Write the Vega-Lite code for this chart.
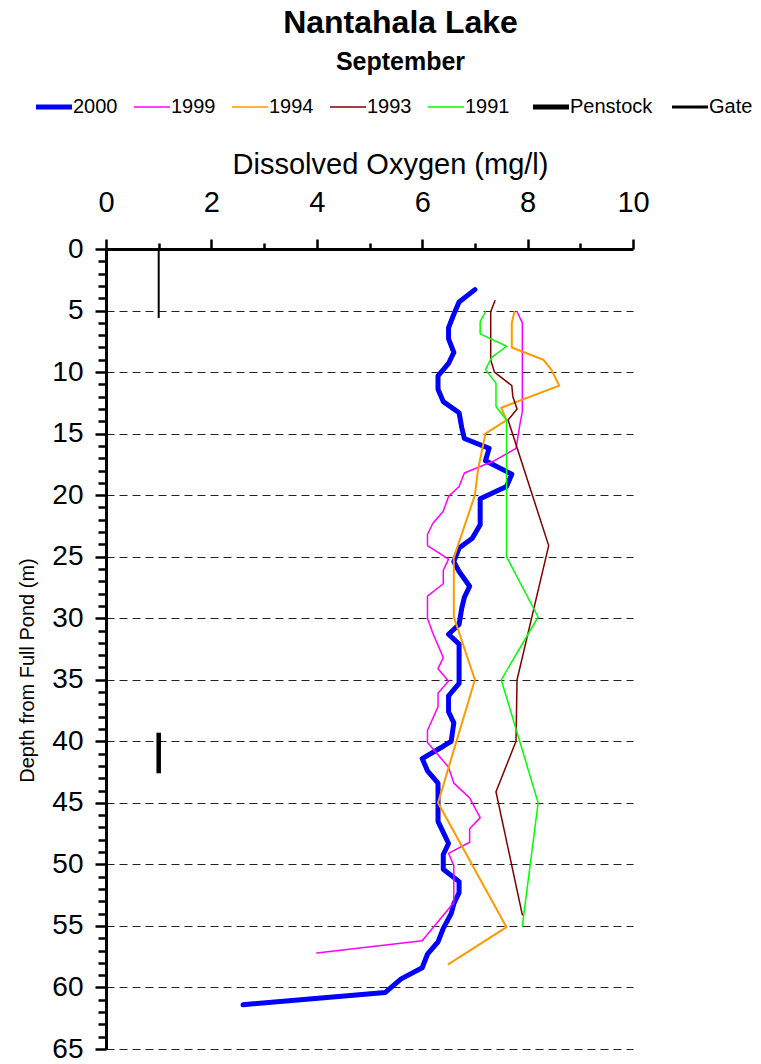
{
  "$schema": "https://vega.github.io/schema/vega-lite/v6.json",
  "width": 527,
  "height": 800,
  "autosize": {"type": "none"},
  "padding": {"left": 106, "top": 249, "right": 128, "bottom": 15},
  "background": "white",
  "config": {"view": {"stroke": null}, "font": "Liberation Sans"},
  "title": {
    "text": "Nantahala Lake",
    "subtitle": "September",
    "fontSize": 32,
    "fontWeight": "bold",
    "color": "black",
    "subtitleFontSize": 25,
    "subtitleFontWeight": "bold",
    "subtitleColor": "black",
    "subtitlePadding": 10,
    "anchor": "middle",
    "dx": 31,
    "offset": 21
  },
  "encoding": {
    "x": {
      "field": "v",
      "type": "quantitative",
      "scale": {"domain": [0, 10], "nice": false, "zero": false},
      "axis": {
        "orient": "top",
        "values": [0, 1, 2, 3, 4, 5, 6, 7, 8, 9, 10],
        "labelExpr": "datum.value % 2 == 0 ? datum.label : ''",
        "tickSize": {"condition": {"test": "datum.value % 2 == 0", "value": 10}, "value": 6},
        "tickWidth": 2.5,
        "tickColor": "black",
        "domainColor": "black",
        "domainWidth": 3,
        "labelFontSize": 29,
        "labelColor": "black",
        "labelPadding": 22,
        "labelFlush": false,
        "labelOverlap": false,
        "grid": false,
        "title": "Dissolved Oxygen (mg/l)",
        "titleFontSize": 29,
        "titleFontWeight": "normal",
        "titleColor": "black",
        "titleX": 284,
        "titleY": -85,
        "titleBaseline": "middle",
        "titleAlign": "center"
      }
    },
    "y": {
      "field": "d",
      "type": "quantitative",
      "scale": {"domain": [0, 65], "reverse": true, "nice": false, "zero": false},
      "axis": {
        "orient": "left",
        "values": [0,1,2,3,4,5,6,7,8,9,10,11,12,13,14,15,16,17,18,19,20,21,22,23,24,25,26,27,28,29,30,31,32,33,34,35,36,37,38,39,40,41,42,43,44,45,46,47,48,49,50,51,52,53,54,55,56,57,58,59,60,61,62,63,64,65],
        "labelExpr": "datum.value % 5 == 0 ? datum.label : ''",
        "tickSize": {"condition": {"test": "datum.value % 5 == 0", "value": 11}, "value": 8},
        "tickWidth": 2.5,
        "tickColor": "black",
        "domainColor": "black",
        "domainWidth": 3,
        "labelFontSize": 28,
        "labelColor": "black",
        "labelPadding": 12,
        "labelFlush": false,
        "labelOverlap": false,
        "grid": true,
        "gridColor": "#222222",
        "gridWidth": 1,
        "gridDash": [8, 5],
        "gridOpacity": {"condition": {"test": "datum.value % 5 == 0 && datum.value > 0", "value": 1}, "value": 0},
        "title": "Depth from Full Pond (m)",
        "titleFontSize": 20,
        "titleFontWeight": "normal",
        "titleColor": "black",
        "titleX": -79,
        "titleY": 421,
        "titleBaseline": "middle",
        "titleAlign": "center",
        "titleAngle": -90
      }
    },
    "color": {
      "field": "s",
      "type": "nominal",
      "scale": {
        "domain": ["2000", "1999", "1994", "1993", "1991", "Penstock", "Gate"],
        "range": ["#0000FF", "#FF00FF", "#FF9900", "#800000", "#00FF00", "#000000", "#000000"]
      },
      "legend": {
        "orient": "none",
        "legendX": -62,
        "legendY": -152,
        "direction": "horizontal",
        "title": null,
        "symbolType": "stroke",
        "symbolSize": 1296,
        "symbolStrokeWidth": 1.5,
        "labelFontSize": 20,
        "labelColor": "black",
        "labelOffset": 9,
        "columnPadding": 13,
        "encode": {
          "symbols": {
            "update": {
              "strokeWidth": {"signal": "datum.value === '2000' || datum.value === 'Penstock' ? 5 : (datum.value === 'Gate' ? 3 : 1.5)"}
            }
          }
        }
      }
    }
  },
  "layer": [
    {
      "data": {
        "values": [
          {"s": "2000", "v": 7.0, "d": 3.3},
          {"s": "2000", "v": 6.7, "d": 4.3},
          {"s": "2000", "v": 6.6, "d": 5.3},
          {"s": "2000", "v": 6.5, "d": 6.4},
          {"s": "2000", "v": 6.5, "d": 7.3},
          {"s": "2000", "v": 6.6, "d": 8.4},
          {"s": "2000", "v": 6.5, "d": 9.3},
          {"s": "2000", "v": 6.3, "d": 10.3},
          {"s": "2000", "v": 6.3, "d": 11.4},
          {"s": "2000", "v": 6.4, "d": 12.4},
          {"s": "2000", "v": 6.7, "d": 13.3},
          {"s": "2000", "v": 6.75, "d": 14.5},
          {"s": "2000", "v": 6.8, "d": 15.4},
          {"s": "2000", "v": 7.27, "d": 16.2},
          {"s": "2000", "v": 7.2, "d": 17.2},
          {"s": "2000", "v": 7.7, "d": 18.3},
          {"s": "2000", "v": 7.6, "d": 19.3},
          {"s": "2000", "v": 7.1, "d": 20.3},
          {"s": "2000", "v": 7.1, "d": 21.3},
          {"s": "2000", "v": 7.1, "d": 22.4},
          {"s": "2000", "v": 6.95, "d": 23.5},
          {"s": "2000", "v": 6.7, "d": 24.3},
          {"s": "2000", "v": 6.6, "d": 25.4},
          {"s": "2000", "v": 6.7, "d": 26.2},
          {"s": "2000", "v": 6.9, "d": 27.4},
          {"s": "2000", "v": 6.8, "d": 28.3},
          {"s": "2000", "v": 6.75, "d": 29.2},
          {"s": "2000", "v": 6.7, "d": 30.5},
          {"s": "2000", "v": 6.5, "d": 31.3},
          {"s": "2000", "v": 6.7, "d": 32.1},
          {"s": "2000", "v": 6.7, "d": 33.3},
          {"s": "2000", "v": 6.7, "d": 34.3},
          {"s": "2000", "v": 6.7, "d": 35.3},
          {"s": "2000", "v": 6.5, "d": 36.3},
          {"s": "2000", "v": 6.5, "d": 37.6},
          {"s": "2000", "v": 6.6, "d": 38.5},
          {"s": "2000", "v": 6.55, "d": 40.0},
          {"s": "2000", "v": 6.4, "d": 40.4},
          {"s": "2000", "v": 6.0, "d": 41.4},
          {"s": "2000", "v": 6.1, "d": 42.4},
          {"s": "2000", "v": 6.3, "d": 43.4},
          {"s": "2000", "v": 6.3, "d": 44.4},
          {"s": "2000", "v": 6.3, "d": 45.4},
          {"s": "2000", "v": 6.3, "d": 46.5},
          {"s": "2000", "v": 6.4, "d": 47.4},
          {"s": "2000", "v": 6.5, "d": 48.3},
          {"s": "2000", "v": 6.4, "d": 49.2},
          {"s": "2000", "v": 6.4, "d": 50.4},
          {"s": "2000", "v": 6.7, "d": 51.4},
          {"s": "2000", "v": 6.7, "d": 52.3},
          {"s": "2000", "v": 6.6, "d": 53.2},
          {"s": "2000", "v": 6.55, "d": 54.0},
          {"s": "2000", "v": 6.4, "d": 55.2},
          {"s": "2000", "v": 6.3, "d": 56.3},
          {"s": "2000", "v": 6.1, "d": 57.3},
          {"s": "2000", "v": 6.0, "d": 58.4},
          {"s": "2000", "v": 5.6, "d": 59.3},
          {"s": "2000", "v": 5.3, "d": 60.4},
          {"s": "2000", "v": 2.6, "d": 61.4},

          {"s": "1999", "v": 7.8, "d": 5.1},
          {"s": "1999", "v": 7.9, "d": 6.0},
          {"s": "1999", "v": 7.9, "d": 13.2},
          {"s": "1999", "v": 7.86, "d": 14.1},
          {"s": "1999", "v": 7.78, "d": 16.2},
          {"s": "1999", "v": 7.37, "d": 17.2},
          {"s": "1999", "v": 6.8, "d": 18.2},
          {"s": "1999", "v": 6.7, "d": 19.3},
          {"s": "1999", "v": 6.5, "d": 20.1},
          {"s": "1999", "v": 6.4, "d": 21.3},
          {"s": "1999", "v": 6.2, "d": 22.3},
          {"s": "1999", "v": 6.1, "d": 23.2},
          {"s": "1999", "v": 6.1, "d": 24.1},
          {"s": "1999", "v": 6.5, "d": 25.2},
          {"s": "1999", "v": 6.4, "d": 26.1},
          {"s": "1999", "v": 6.4, "d": 27.2},
          {"s": "1999", "v": 6.1, "d": 28.2},
          {"s": "1999", "v": 6.1, "d": 30.0},
          {"s": "1999", "v": 6.2, "d": 31.2},
          {"s": "1999", "v": 6.4, "d": 33.2},
          {"s": "1999", "v": 6.3, "d": 34.1},
          {"s": "1999", "v": 6.5, "d": 35.1},
          {"s": "1999", "v": 6.3, "d": 36.1},
          {"s": "1999", "v": 6.3, "d": 37.2},
          {"s": "1999", "v": 6.1, "d": 39.1},
          {"s": "1999", "v": 6.1, "d": 40.1},
          {"s": "1999", "v": 6.5, "d": 42.1},
          {"s": "1999", "v": 6.6, "d": 43.4},
          {"s": "1999", "v": 6.9, "d": 44.6},
          {"s": "1999", "v": 7.1, "d": 46.2},
          {"s": "1999", "v": 6.9, "d": 47.1},
          {"s": "1999", "v": 6.9, "d": 48.2},
          {"s": "1999", "v": 6.5, "d": 49.1},
          {"s": "1999", "v": 6.6, "d": 50.1},
          {"s": "1999", "v": 6.6, "d": 53.1},
          {"s": "1999", "v": 6.0, "d": 56.2},
          {"s": "1999", "v": 4.0, "d": 57.2},

          {"s": "1994", "v": 7.75, "d": 5.1},
          {"s": "1994", "v": 7.7, "d": 6.0},
          {"s": "1994", "v": 7.7, "d": 8.0},
          {"s": "1994", "v": 8.3, "d": 9.0},
          {"s": "1994", "v": 8.45, "d": 9.8},
          {"s": "1994", "v": 8.6, "d": 11.1},
          {"s": "1994", "v": 7.5, "d": 12.9},
          {"s": "1994", "v": 7.6, "d": 13.9},
          {"s": "1994", "v": 7.2, "d": 15.0},
          {"s": "1994", "v": 7.06, "d": 17.9},
          {"s": "1994", "v": 7.0, "d": 20.0},
          {"s": "1994", "v": 6.7, "d": 23.8},
          {"s": "1994", "v": 6.6, "d": 25.1},
          {"s": "1994", "v": 6.6, "d": 29.9},
          {"s": "1994", "v": 7.0, "d": 35.0},
          {"s": "1994", "v": 6.3, "d": 45.0},
          {"s": "1994", "v": 7.6, "d": 55.1},
          {"s": "1994", "v": 6.5, "d": 58.1},

          {"s": "1993", "v": 7.38, "d": 4.2},
          {"s": "1993", "v": 7.3, "d": 5.1},
          {"s": "1993", "v": 7.3, "d": 9.0},
          {"s": "1993", "v": 7.37, "d": 10.0},
          {"s": "1993", "v": 7.7, "d": 11.1},
          {"s": "1993", "v": 7.72, "d": 12.0},
          {"s": "1993", "v": 7.8, "d": 13.0},
          {"s": "1993", "v": 7.63, "d": 13.9},
          {"s": "1993", "v": 8.4, "d": 24.1},
          {"s": "1993", "v": 7.8, "d": 35.0},
          {"s": "1993", "v": 7.78, "d": 40.0},
          {"s": "1993", "v": 7.4, "d": 44.1},
          {"s": "1993", "v": 7.9, "d": 54.1},

          {"s": "1991", "v": 7.2, "d": 5.1},
          {"s": "1991", "v": 7.1, "d": 5.9},
          {"s": "1991", "v": 7.1, "d": 6.9},
          {"s": "1991", "v": 7.6, "d": 7.9},
          {"s": "1991", "v": 7.32, "d": 8.8},
          {"s": "1991", "v": 7.2, "d": 9.8},
          {"s": "1991", "v": 7.4, "d": 10.9},
          {"s": "1991", "v": 7.4, "d": 12.8},
          {"s": "1991", "v": 7.6, "d": 13.9},
          {"s": "1991", "v": 7.6, "d": 25.0},
          {"s": "1991", "v": 8.2, "d": 29.9},
          {"s": "1991", "v": 7.5, "d": 35.0},
          {"s": "1991", "v": 8.2, "d": 45.0},
          {"s": "1991", "v": 7.9, "d": 55.0}
        ]
      },
      "mark": {"type": "line", "strokeJoin": "round", "strokeCap": "round"},
      "encoding": {
        "order": {"field": "d", "type": "quantitative"},
        "strokeWidth": {
          "condition": [
            {"test": "datum.s === '2000'", "value": 5},
            {"test": "datum.s === '1994'", "value": 2}
          ],
          "value": 1.5
        }
      }
    },
    {
      "data": {
        "values": [
          {"s": "Gate", "v": 1, "d": 0, "d2": 5.6},
          {"s": "Penstock", "v": 1, "d": 39.3, "d2": 42.6}
        ]
      },
      "mark": {"type": "rule"},
      "encoding": {
        "y2": {"field": "d2"},
        "strokeWidth": {
          "condition": {"test": "datum.s === 'Penstock'", "value": 4.5},
          "value": 2
        }
      }
    }
  ]
}
